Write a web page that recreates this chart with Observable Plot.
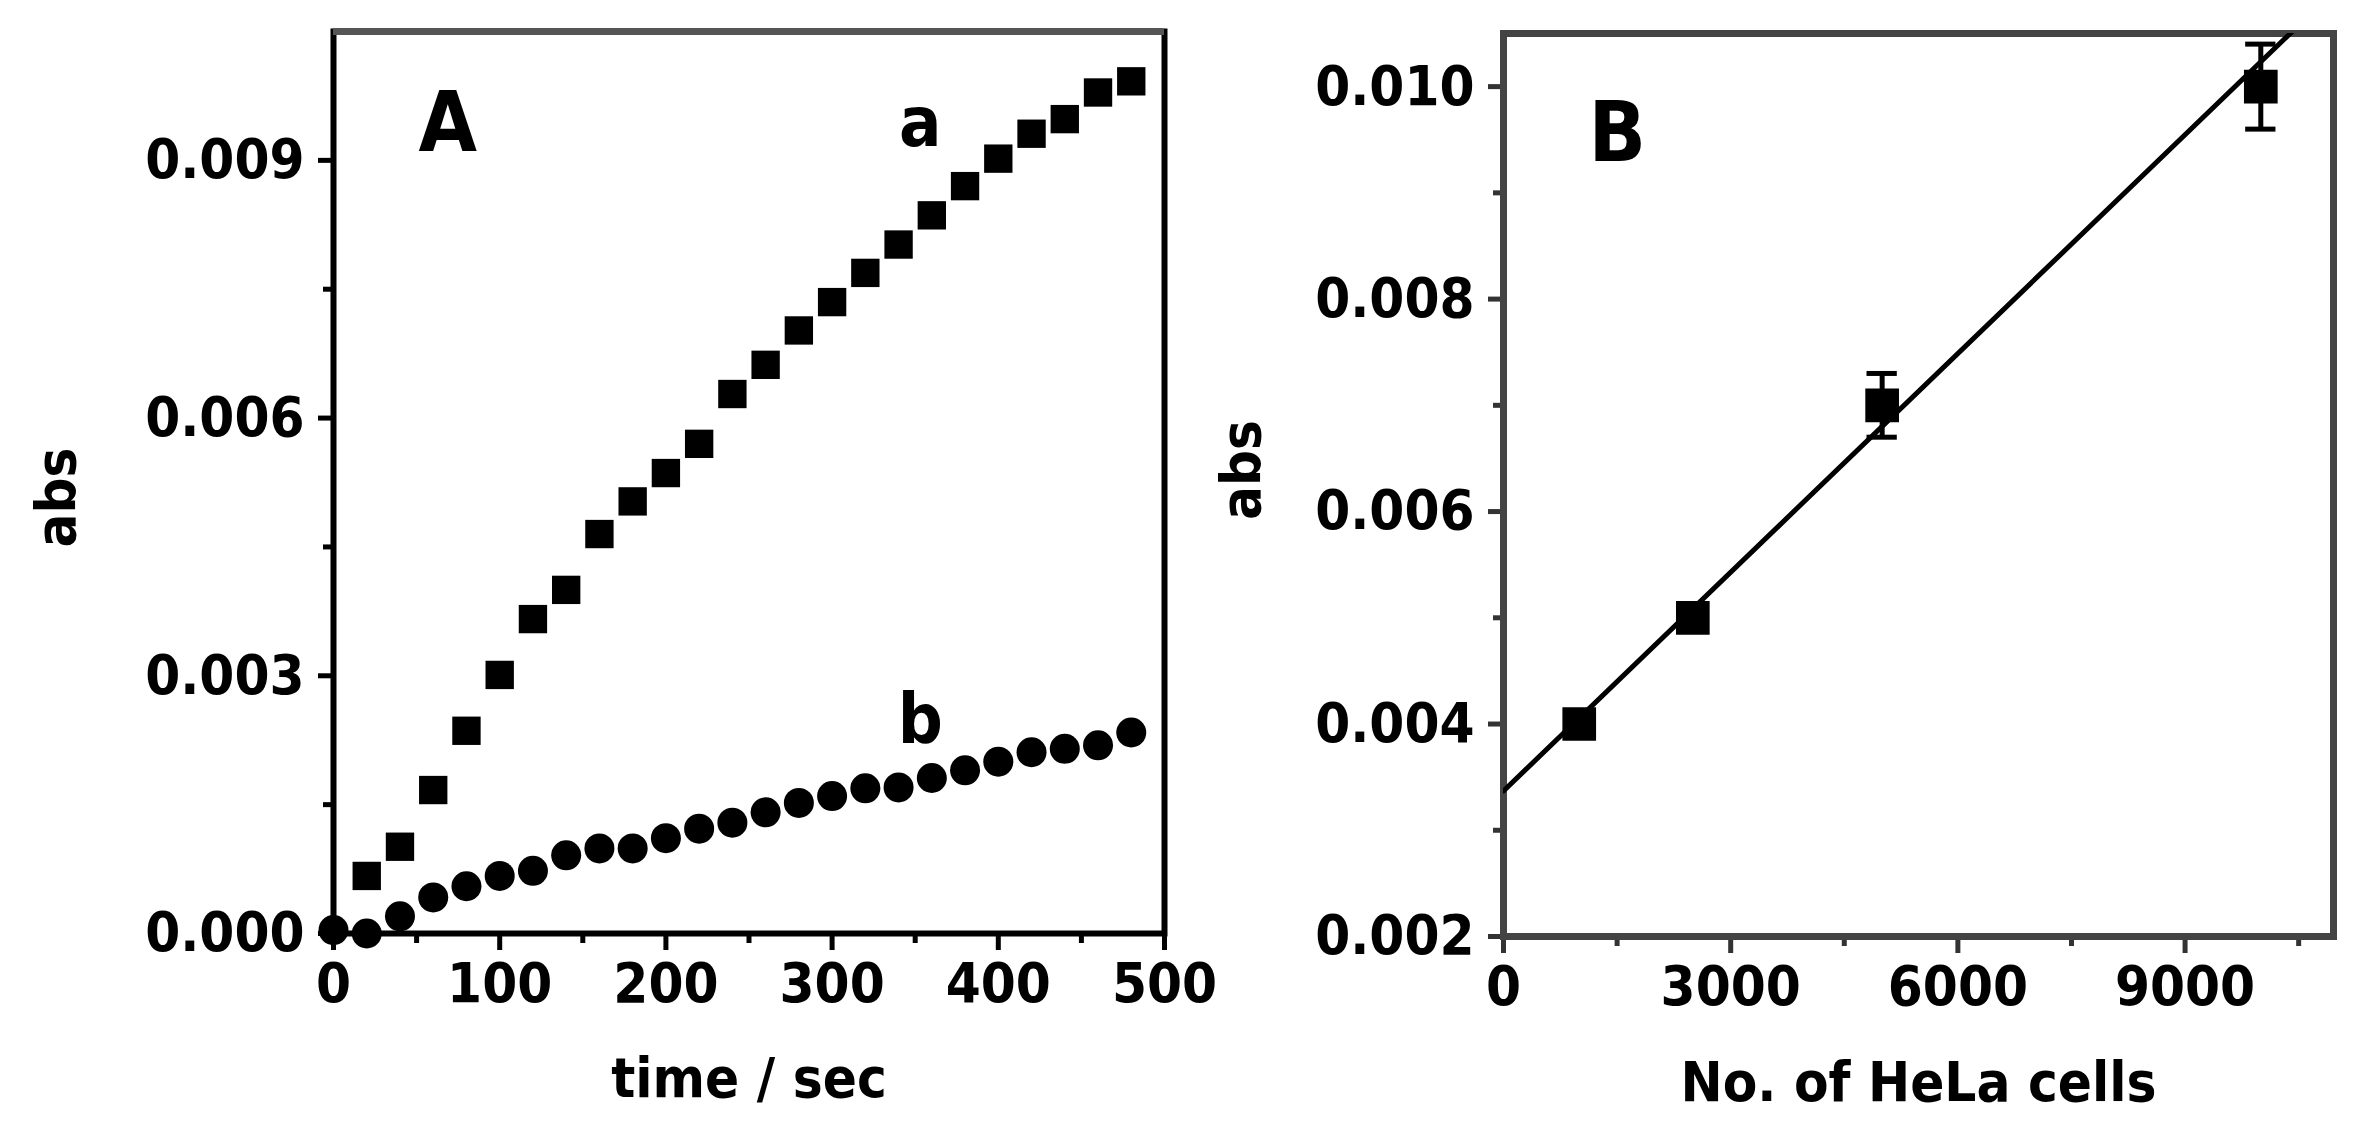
<!DOCTYPE html>
<html><head><meta charset="utf-8">
<script src="https://cdn.jsdelivr.net/npm/d3@7"></script>
<script src="https://cdn.jsdelivr.net/npm/@observablehq/plot@0.6"></script>
<style>
body{margin:0;background:#fff;}
#wrap{position:relative;width:2364px;height:1132px;overflow:hidden;background:#fff;}
#wrap > svg{position:absolute;top:0;}
</style></head><body><div id="wrap"></div>
<script>
// Panel A: series a (squares)
const timeA = [20,40,60,80,100,120,140,160,180,200,220,240,260,280,300,320,340,360,380,400,420,440,460,480];
const absA  = [0.00067,0.00101,0.00167,0.00236,0.00301,0.00366,0.00400,0.00465,0.00503,0.00536,0.00570,0.00628,0.00662,0.00702,0.00735,0.00769,0.00802,0.00836,0.00870,0.00902,0.00931,0.00948,0.00979,0.00992];
// Panel A: series b (circles)
const timeB = [0,20,40,60,80,100,120,140,160,180,200,220,240,260,280,300,320,340,360,380,400,420,440,460,480];
const absB  = [0.00004,0.00000,0.00020,0.00042,0.00055,0.00067,0.00073,0.00091,0.00099,0.00099,0.00111,0.00122,0.00129,0.00141,0.00152,0.00160,0.00169,0.00170,0.00181,0.00190,0.00200,0.00211,0.00215,0.00219,0.00234];
// Panel B: calibration
const cells    = [1000,2500,5000,10000];
const absCells = [0.0040,0.0050,0.0070,0.0100];
const errCells = [0.00005,0.0001,0.0003,0.0004];
const fitCells = [0,11000];
const fitAbs   = [0.00337,0.01092];
// ticks
const xTicksA = [0,100,200,300,400,500];
const xMinorA = [50,150,250,350,450];
const yTicksA = [0,0.003,0.006,0.009];
const yMinorA = [0.0015,0.0045,0.0075];
const xTicksB = [0,3000,6000,9000];
const xMinorB = [1500,4500,7500,10500];
const yTicksB = [0.002,0.004,0.006,0.008,0.010];
const yMinorB = [0.003,0.005,0.007,0.009];

const dataA = timeA.map((t,i)=>({t, v:absA[i]}));
const dataB = timeB.map((t,i)=>({t, v:absB[i]}));
const dataC = cells.map((c,i)=>({c, v:absCells[i], lo:absCells[i]-errCells[i], hi:absCells[i]+errCells[i]}));
const fit = fitCells.map((c,i)=>({c, v:fitAbs[i]}));

const FONT = '"DejaVu Sans Condensed", "DejaVu Sans", sans-serif';
const style = {fontFamily: FONT, fontWeight: "bold", fontSize: "56px", background: "transparent", overflow: "visible", fontStretch: "condensed"};
const fmt3 = d3.format(".3f");

const plotA = Plot.plot({
  width: 1182, height: 1132,
  marginLeft: 333, marginRight: 18, marginTop: 31, marginBottom: 199,
  style,
  x: {domain: [0, 500]},
  y: {domain: [0, 0.0105]},
  marks: [
    Plot.axisX({ticks: xTicksA, tickSize: 17, tickPadding: 12, strokeWidth: 5, label: null, tickFormat: d3.format("d")}),
    Plot.axisX({ticks: xMinorA, tickSize: 10, strokeWidth: 5, label: null, tickFormat: () => ""}),
    Plot.axisY({ticks: yTicksA, tickSize: 15, tickPadding: 14, strokeWidth: 5, label: null, tickFormat: fmt3}),
    Plot.axisY({ticks: yMinorA, tickSize: 10, strokeWidth: 5, label: null, tickFormat: () => ""}),
    Plot.frame({stroke: "black", strokeWidth: 6}),
    Plot.ruleY([0.0105], {stroke: "#555", strokeWidth: 7}),
    Plot.dot(dataB, {x: "t", y: "v", symbol: "circle", r: 15, fill: "black"}),
    Plot.dot(dataA, {x: "t", y: "v", symbol: "square", r: 16, fill: "black"}),
    Plot.text(["A"], {frameAnchor: "top-left", dx: 85, dy: 119, lineAnchor: "bottom", fontSize: 84, fontWeight: "bold"}),
    Plot.text([{t: 353, v: 0.00917, s: "a"}, {t: 353, v: 0.00222, s: "b"}], {x: "t", y: "v", text: "s", lineAnchor: "bottom", fontSize: 70, fontWeight: "bold"}),
    Plot.text(["time / sec"], {frameAnchor: "bottom", dy: 163, fontSize: 56, fontWeight: "bold"}),
    Plot.text(["abs"], {frameAnchor: "left", dx: -276, dy: 65, rotate: -90, fontSize: 56, fontWeight: "bold"})
  ]
});

const plotB = Plot.plot({
  width: 1182, height: 1132,
  marginLeft: 321, marginRight: 31, marginTop: 33, marginBottom: 196,
  style,
  x: {domain: [0, 10960]},
  y: {domain: [0.002, 0.0105]},
  marks: [
    Plot.axisX({ticks: xTicksB, tickSize: 17, tickPadding: 12, strokeWidth: 5, stroke: "#333", label: null, tickFormat: d3.format("d")}),
    Plot.axisX({ticks: xMinorB, tickSize: 10, strokeWidth: 5, stroke: "#333", label: null, tickFormat: () => ""}),
    Plot.axisY({ticks: yTicksB, tickSize: 15, tickPadding: 14, strokeWidth: 5, stroke: "#333", label: null, tickFormat: fmt3}),
    Plot.axisY({ticks: yMinorB, tickSize: 10, strokeWidth: 5, stroke: "#333", label: null, tickFormat: () => ""}),
    Plot.frame({stroke: "#444", strokeWidth: 7}),
    Plot.line(fit, {x: "c", y: "v", stroke: "black", strokeWidth: 5, clip: true}),
    Plot.ruleX(dataC, {x: "c", y1: "lo", y2: "hi", stroke: "black", strokeWidth: 5}),
    Plot.ruleY(dataC, {y: "lo", x1: d => d.c - 200, x2: d => d.c + 200, stroke: "black", strokeWidth: 5}),
    Plot.ruleY(dataC, {y: "hi", x1: d => d.c - 200, x2: d => d.c + 200, stroke: "black", strokeWidth: 5}),
    Plot.dot(dataC, {x: "c", y: "v", symbol: "square", r: 19, fill: "black"}),
    Plot.text(["B"], {frameAnchor: "top-left", dx: 85, dy: 127, lineAnchor: "bottom", fontSize: 84, fontWeight: "bold"}),
    Plot.text(["No. of HeLa cells"], {frameAnchor: "bottom", dy: 164, fontSize: 56, fontWeight: "bold"}),
    Plot.text(["abs"], {frameAnchor: "left", dx: -261, dy: 35, rotate: -90, fontSize: 56, fontWeight: "bold"})
  ]
});

const wrap = document.getElementById("wrap");
plotA.style.left = "0px";
plotB.style.left = "1182px";
wrap.appendChild(plotA);
wrap.appendChild(plotB);
</script>
</body></html>
